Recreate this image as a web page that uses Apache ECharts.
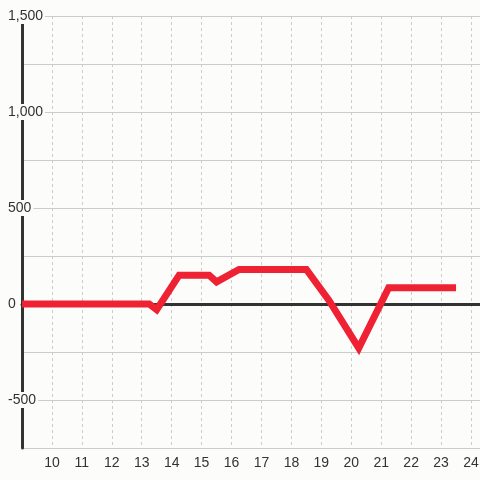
<!DOCTYPE html>
<html>
<head>
<meta charset="utf-8">
<script src="https://cdn.jsdelivr.net/npm/echarts@6/dist/echarts.min.js"></script>
<style>
  html, body { margin: 0; padding: 0; background: #fcfdfb; }
  #chart { width: 480px; height: 480px; }
</style>
</head>
<body>
<div id="chart"></div>
<script>
  var hours = [9, 13.25, 13.5, 14.25, 15.25, 15.5, 16.25, 18.5, 19.25, 20.25, 21.25, 23.5];
  var values = [0, 0, -30, 150, 150, 115, 180, 180, 20, -230, 85, 85];
  var yLabels = [-500, 0, 500, 1000, 1500];

  var points = hours.map(function (h, i) { return [h, values[i]]; });

  var chart = echarts.init(document.getElementById('chart'));
  chart.setOption({
    backgroundColor: '#fcfdfb',
    animation: false,
    grid: { left: 22, right: 0, top: 16, bottom: 32, containLabel: false, outerBoundsMode: 'none' },
    xAxis: [{
      // axis line through zero
      type: 'value',
      min: 9,
      max: 24.3,
      interval: 1,
      axisLine: { show: true, onZero: true, lineStyle: { color: '#333', width: 3 } },
      axisTick: { show: false },
      axisLabel: { show: false },
      splitLine: { show: true, lineStyle: { color: '#ccc', type: [3, 3], width: 1 } }
    }, {
      // bottom labels
      type: 'value',
      position: 'bottom',
      min: 9,
      max: 24.3,
      interval: 1,
      axisLine: { show: false, onZero: false },
      axisTick: { show: false },
      splitLine: { show: false },
      axisLabel: {
        color: '#333',
        fontSize: 14,
        fontFamily: 'Liberation Sans',
        margin: 8,
        formatter: function (v) { return v >= 10 && v <= 24 ? String(v) : ''; }
      }
    }],
    yAxis: {
      type: 'value',
      min: -750,
      max: 1500,
      interval: 250,
      axisLine: { show: true, onZero: false, lineStyle: { color: '#333', width: 3 } },
      axisTick: { show: false },
      splitLine: { show: true, lineStyle: { color: '#ccc', width: 1 } },
      axisLabel: {
        color: '#333',
        fontSize: 14,
        fontFamily: 'Liberation Sans',
        align: 'left',
        margin: 14,
        backgroundColor: '#fcfdfb',
        padding: [1, 2, 1, 0],
        formatter: function (v) {
          return yLabels.indexOf(v) >= 0 ? v.toLocaleString('en-US') : '';
        }
      }
    },
    series: [{
      type: 'line',
      xAxisIndex: 0,
      data: points,
      symbol: 'none',
      lineStyle: { color: '#ee2233', width: 7, cap: 'butt', join: 'miter' }
    }]
  });
</script>
</body>
</html>
